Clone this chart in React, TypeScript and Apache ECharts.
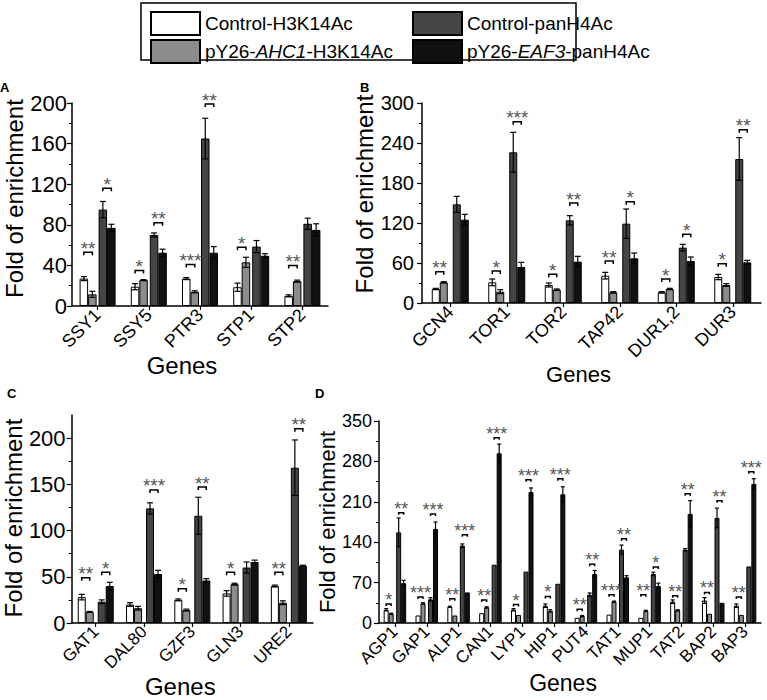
import { useEffect, useRef } from 'react';
import * as echarts from 'echarts';

const FONT = '"Liberation Sans", Arial, Helvetica, sans-serif';

const seriesNames = ['Control-H3K14Ac', 'pY26-AHC1-H3K14Ac', 'Control-panH4Ac', 'pY26-EAF3-panH4Ac'];
const barColors = ['#ffffff', '#8c8c8c', '#454545', '#111111'];

// Panel A
const genesA = ['SSY1', 'SSY5', 'PTR3', 'STP1', 'STP2'];
const ctrlH3A = [27, 19, 27, 18.5, 10];
const ctrlH3ErrA = [2, 3, 1, 4, 1];
const ahcA = [11.5, 25.5, 14, 43, 24.5];
const ahcErrA = [3, 0.5, 1, 5, 1];
const ctrlH4A = [95, 70, 165, 58.5, 81];
const ctrlH4ErrA = [8, 2, 20, 6, 5.5];
const eafA = [77, 52.5, 52.5, 49.5, 75];
const eafErrA = [3.5, 3.5, 6, 2, 6];
const sigA: [number, number, number, string][] = [
  [0, 0, 53, '**'], [1, 0, 35, '*'], [2, 0, 41, '***'], [3, 0, 58, '*'], [4, 0, 40, '**'],
  [0, 1, 116, '*'], [1, 1, 82, '**'], [2, 1, 199, '**'],
];

// Panel B
const genesB = ['GCN4', 'TOR1', 'TOR2', 'TAP42', 'DUR1,2', 'DUR3'];
const ctrlH3B = [21, 31, 27, 41, 16, 39];
const ctrlH3ErrB = [1, 5, 3, 5, 1, 4];
const ahcB = [31, 17, 20, 16, 21, 27];
const ahcErrB = [1, 3, 1, 1, 1, 2];
const ctrlH4B = [148, 226, 124, 119, 83, 216];
const ctrlH4ErrB = [12, 30, 7, 22, 5, 32];
const eafB = [125, 54, 62, 67, 63, 61];
const eafErrB = [8, 7, 8, 8, 6, 3];
const sigB: [number, number, number, string][] = [
  [0, 0, 47, '**'], [1, 0, 48, '*'], [2, 0, 43, '*'], [3, 0, 63, '**'], [4, 0, 36, '*'], [5, 0, 59, '*'],
  [1, 1, 272, '***'], [2, 1, 150, '**'], [3, 1, 152, '*'], [4, 1, 103, '*'], [5, 1, 260, '**'],
];

// Panel C
const genesC = ['GAT1', 'DAL80', 'GZF3', 'GLN3', 'URE2'];
const ctrlH3C = [28, 20, 25, 32, 40];
const ctrlH3ErrC = [3, 2, 1, 3, 1];
const ahcC = [12, 16, 14, 42, 22];
const ahcErrC = [0.5, 2, 1, 1, 2];
const ctrlH4C = [23, 124, 116, 60, 168];
const ctrlH4ErrC = [2, 6, 20, 6, 30];
const eafC = [40, 53, 46, 66, 62];
const eafErrC = [4, 4, 2, 2, 0.5];
const sigC: [number, number, number, string][] = [
  [0, 0, 49, '**'], [2, 0, 37, '*'], [3, 0, 55, '*'], [4, 0, 55, '**'],
  [0, 1, 55, '*'], [1, 1, 144, '***'], [2, 1, 147, '**'], [4, 1, 210, '**'],
];

// Panel D
const genesD = ['AGP1', 'GAP1', 'ALP1', 'CAN1', 'LYP1', 'HIP1', 'PUT4', 'TAT1', 'MUP1', 'TAT2', 'BAP2', 'BAP3'];
const ctrlH3D = [23, 13, 28, 17, 23, 30, 9, 14.5, 9, 37, 39, 30];
const ctrlH3ErrD = [2, 0, 1, 0, 2, 3, 0, 0, 0, 3, 5, 3];
const ahcD = [16, 34, 13, 27, 14, 21, 12, 37, 21, 22, 16, 14];
const ahcErrD = [1, 1, 0, 1, 0, 2, 1, 1, 1, 1, 0, 0];
const ctrlH4D = [157, 41, 134, 101, 89, 68, 49, 127, 85, 127, 182, 98];
const ctrlH4ErrD = [25, 3, 3, 0, 0, 0, 3, 8, 3, 2, 17, 0];
const eafD = [69, 163, 53, 294, 227, 223, 85, 79, 64, 189, 35, 241];
const eafErrD = [5, 12, 0, 16, 7, 13, 6, 3, 5, 23, 0, 9];
const sigD: [number, number, number, string][] = [
  [0, 0, 33, '*'], [1, 0, 45, '***'], [2, 0, 42, '**'], [3, 0, 40, '**'], [4, 0, 32, '*'], [5, 0, 46, '*'],
  [6, 0, 24, '**'], [7, 0, 49, '***'], [8, 0, 49, '**'], [9, 0, 47, '**'], [10, 0, 53, '**'], [11, 0, 45, '**'],
  [0, 1, 191, '**'], [1, 1, 189, '***'], [2, 1, 153, '***'], [3, 1, 321, '***'], [4, 1, 248, '***'], [5, 1, 250, '***'],
  [6, 1, 102, '**'], [7, 1, 146, '**'], [8, 1, 97, '*'], [9, 1, 224, '**'], [10, 1, 212, '**'], [11, 1, 262, '***'],
];

const yTicksC = [0, 50, 100, 150, 200];

const STAR_COLOR = '#555555';

const panels = [
  {
    letter: 'A', lx: 0, ly: 81, genes: genesA,
    vals: [ctrlH3A, ahcA, ctrlH4A, eafA], errs: [ctrlH3ErrA, ahcErrA, ctrlH4ErrA, eafErrA], sig: sigA,
    grid: { left: 72, top: 103, width: 256, height: 203 }, yMax: 200, yStep: 40, yTicks: null as number[] | null,
    barW: 8.5, gapW: 2, cap: 6, leg: 3, starFont: 19,
    yFont: 22, yMargin: 5, nameFont: 24, nameGap: 32, nameShift: 6,
    xFont: 18, genesFont: 24, genesGap: 40, genesShift: 18,
  },
  {
    letter: 'B', lx: 360, ly: 81, genes: genesB,
    vals: [ctrlH3B, ahcB, ctrlH4B, eafB], errs: [ctrlH3ErrB, ahcErrB, ctrlH4ErrB, eafErrB], sig: sigB,
    grid: { left: 422, top: 103, width: 339, height: 200 }, yMax: 300, yStep: 60, yTicks: null,
    barW: 8, gapW: 5, cap: 6, leg: 3, starFont: 19,
    yFont: 20, yMargin: 8, nameFont: 24, nameGap: 37, nameShift: 9,
    xFont: 18, genesFont: 22, genesGap: 42, genesShift: 13,
  },
  {
    letter: 'C', lx: 7, ly: 387, genes: genesC,
    vals: [ctrlH3C, ahcC, ctrlH4C, eafC], errs: [ctrlH3ErrC, ahcErrC, ctrlH4ErrC, eafErrC], sig: sigC,
    grid: { left: 68, top: 415, width: 245, height: 208 }, yMax: 225, yStep: 50, yTicks: yTicksC,
    barW: 8, gapW: 4, cap: 6, leg: 3, starFont: 19,
    yFont: 22, yMargin: 6, nameFont: 24, nameGap: 35, nameShift: 1,
    xFont: 17, genesFont: 24, genesGap: 49, genesShift: 12,
  },
  {
    letter: 'D', lx: 315, ly: 387, genes: genesD,
    vals: [ctrlH3D, ahcD, ctrlH4D, eafD], errs: [ctrlH3ErrD, ahcErrD, ctrlH4ErrD, eafErrD], sig: sigD,
    grid: { left: 379, top: 421, width: 382, height: 202 }, yMax: 350, yStep: 70, yTicks: null,
    barW: 5, gapW: 2.5, cap: 4, leg: 2, starFont: 18,
    yFont: 18, yMargin: 7, nameFont: 22, nameGap: 32, nameShift: 0,
    xFont: 17, genesFont: 23, genesGap: 47, genesShift: 7,
  },
];

function offsets(w: number, s: number) {
  const total = 4 * w + s;
  const o = -total / 2;
  return [o + w / 2, o + 1.5 * w, o + 2.5 * w + s, o + 3.5 * w + s];
}

function legendOf(left: number, names: string[]) {
  return {
    orient: 'vertical',
    left,
    top: 6,
    itemWidth: 49,
    itemHeight: 23,
    itemGap: 3,
    icon: 'rect',
    selectedMode: false,
    data: names,
    itemStyle: { borderColor: '#000', borderWidth: 2 },
    formatter: (n: string) => n.replace(/(AHC1|EAF3)/, '{i|$1}'),
    textStyle: {
      fontSize: 19,
      fontFamily: FONT,
      color: '#000',
      rich: { i: { fontSize: 19, fontFamily: FONT, fontStyle: 'italic', color: '#000' } },
    },
  };
}

function buildOption() {
  const axisLine = { show: true, lineStyle: { color: '#000', width: 1.5 } };
  const series: any[] = [];
  const graphics: any[] = [
    { type: 'rect', shape: { x: 141, y: 3, width: 435, height: 57 }, style: { fill: 'none', stroke: '#000', lineWidth: 1.5 } },
  ];

  panels.forEach((p, gi) => {
    const off = offsets(p.barW, p.gapW);
    graphics.push({
      type: 'text', left: p.lx, top: p.ly,
      style: { text: p.letter, fontSize: 13, fontWeight: 'bold', fontFamily: FONT, fill: '#000' },
    });
    p.vals.forEach((v, k) => {
      series.push({
        type: 'bar', name: seriesNames[k], xAxisIndex: gi, yAxisIndex: gi, data: v,
        barWidth: p.barW, barGap: '0%', silent: true,
        itemStyle: { color: barColors[k], borderColor: '#000', borderWidth: 1 },
      });
      if (k === 1) {
        series.push({
          type: 'bar', name: '_gap', xAxisIndex: gi, yAxisIndex: gi,
          data: p.genes.map(() => '-'), barWidth: p.gapW, barGap: '0%', silent: true,
        });
      }
    });

    const errData: number[][] = [];
    p.vals.forEach((v, k) => v.forEach((val, i) => errData.push([i, k, val, p.errs[k][i]])));
    series.push({
      type: 'custom', name: '_err', xAxisIndex: gi, yAxisIndex: gi, data: errData, encode: { x: 0, y: 2 },
      z: 5, silent: true, clip: false, itemStyle: { color: '#000' },
      renderItem: (_params: any, api: any) => {
        const i = api.value(0), k = api.value(1), v = api.value(2), e = api.value(3);
        if (!e) return null;
        const x = api.coord([i, v])[0] + off[k];
        const yT = api.coord([i, v + e])[1];
        const yB = api.coord([i, v - e])[1];
        const h = p.cap / 2;
        const st = { stroke: '#000', lineWidth: 1.2 };
        return {
          type: 'group',
          children: [
            { type: 'line', shape: { x1: x, y1: yT, x2: x, y2: yB }, style: st },
            { type: 'line', shape: { x1: x - h, y1: yT, x2: x + h, y2: yT }, style: st },
            { type: 'line', shape: { x1: x - h, y1: yB, x2: x + h, y2: yB }, style: st },
          ],
        };
      },
    });

    series.push({
      type: 'custom', name: '_sig', xAxisIndex: gi, yAxisIndex: gi,
      data: p.sig.map((s) => [s[0], s[1], s[2]]), encode: { x: 0, y: 2 },
      z: 6, silent: true, clip: false, itemStyle: { color: STAR_COLOR },
      renderItem: (params: any, api: any) => {
        const label = p.sig[params.dataIndex][3];
        const i = api.value(0), pair = api.value(1), yv = api.value(2);
        const c = api.coord([i, yv]);
        const x1 = c[0] + off[pair * 2];
        const x2 = c[0] + off[pair * 2 + 1];
        const y = c[1];
        return {
          type: 'group',
          children: [
            {
              type: 'polyline',
              shape: { points: [[x1, y + p.leg], [x1, y], [x2, y], [x2, y + p.leg]] },
              style: { stroke: '#000', lineWidth: 1.5, fill: 'none' },
            },
            {
              type: 'text',
              x: (x1 + x2) / 2,
              y: y - 4,
              style: {
                text: label, align: 'center', verticalAlign: 'middle',
                fontSize: p.starFont, fontFamily: FONT, fill: STAR_COLOR,
              },
            },
          ],
        };
      },
    });
  });

  return {
    animation: false,
    backgroundColor: '#fff',
    color: ['#555555'],
    textStyle: { fontFamily: FONT },
    legend: [
      legendOf(145, [seriesNames[0], seriesNames[1]]),
      legendOf(407, [seriesNames[2], seriesNames[3]]),
    ],
    grid: panels.map((p) => ({ ...p.grid })),
    xAxis: panels.map((p, gi) => ({
      type: 'category', gridIndex: gi, data: p.genes,
      axisLine,
      axisTick: { show: true, alignWithLabel: true, length: 4, lineStyle: { color: '#000', width: 1.2 } },
      axisLabel: { rotate: 45, interval: 0, fontSize: p.xFont, fontFamily: FONT, color: '#000', margin: 6 },
      name: 'Genes', nameLocation: 'middle', nameGap: p.genesGap,
      nameTextStyle: { fontSize: p.genesFont, fontFamily: FONT, color: '#000', padding: [0, p.genesShift * 2, 0, 0] },
    })),
    yAxis: panels.map((p, gi) => ({
      type: 'value', gridIndex: gi, min: 0, max: p.yMax, interval: p.yStep,
      splitLine: { show: false },
      axisLine,
      axisTick: {
        show: true, length: 5, lineStyle: { color: '#000', width: 1.2 },
        ...(p.yTicks ? { customValues: p.yTicks } : {}),
      },
      minorTick: { show: true, splitNumber: 2, length: 3, lineStyle: { color: '#000', width: 1 } },
      axisLabel: {
        fontSize: p.yFont, fontFamily: FONT, color: '#000', margin: p.yMargin,
        ...(p.yTicks ? { customValues: p.yTicks } : {}),
      },
      name: 'Fold of enrichment', nameLocation: 'middle', nameGap: p.nameGap,
      nameTextStyle: { fontSize: p.nameFont, fontFamily: FONT, color: '#000', padding: [0, 0, 0, p.nameShift * 2] },
    })),
    graphic: graphics,
    series,
  };
}

export default function App() {
  const chartRef = useRef<HTMLDivElement>(null);

  useEffect(() => {
    if (!chartRef.current) return;
    const chart = echarts.init(chartRef.current, undefined, { renderer: 'svg' });
    chart.setOption(buildOption() as any);
    return () => chart.dispose();
  }, []);

  return (
    <div
      ref={chartRef}
      style={{ position: 'fixed', left: 0, top: 0, width: 767, height: 700, background: '#fff' }}
    />
  );
}
